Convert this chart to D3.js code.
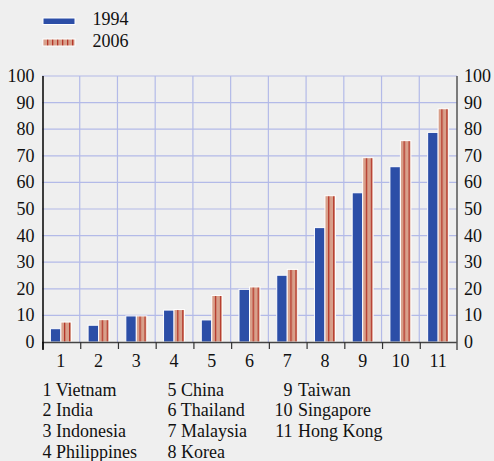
<!DOCTYPE html>
<html>
<head>
<meta charset="utf-8">
<script src="https://cdn.jsdelivr.net/npm/d3@7/dist/d3.min.js"></script>
<style>
  html, body { margin: 0; padding: 0; background: #efefef; }
  svg { display: block; }
</style>
</head>
<body>
<svg id="chart" width="494" height="461" font-family="'Liberation Serif', 'Times New Roman', Tinos, 'DejaVu Serif', serif"></svg>
<script>
const categories = ["1","2","3","4","5","6","7","8","9","10","11"];
const countries = ["Vietnam","India","Indonesia","Philippines","China","Thailand","Malaysia","Korea","Taiwan","Singapore","Hong Kong"];
const seriesNames = ["1994","2006"];
const values1994 = [5, 6.3, 9.8, 12, 8.3, 19.8, 25.1, 43, 56.1, 65.9, 78.8];
const values2006 = [7.5, 8.4, 9.8, 12.2, 17.5, 20.7, 27.3, 55, 69.3, 75.7, 87.7];
const yTicks = [0,10,20,30,40,50,60,70,80,90,100];

(function(){
const svg = d3.select("#chart");
const FONT = "Liberation Serif";
const FS = 18;
const pLeft = 42, pRight = 457, pTop = 76, pBottom = 342;
const blue = "#2c4ea7", pinkFill = "#d8a08b", pinkStripe = "#b5372a", grid = "#b3bae8";

const defs = svg.append("defs");
const pat = defs.append("pattern").attr("id","stripes").attr("patternUnits","userSpaceOnUse")
  .attr("width",5).attr("height",10);
pat.append("rect").attr("width",5).attr("height",10).attr("fill",pinkFill);
pat.append("rect").attr("x",2).attr("width",1.3).attr("height",10).attr("fill",pinkStripe);

const x0 = d3.scaleBand().domain(categories).range([pLeft, pRight]).padding(0);
const step = x0.bandwidth();
const x1 = d3.scaleBand().domain(seriesNames).range([step/2 - 10.5, step/2 + 10.5]).padding(0);
const y = d3.scaleLinear().domain([0,100]).range([pBottom, pTop]);

// gridlines
const g = svg.append("g");
g.selectAll(".hg").data(yTicks.slice(1)).join("line")
  .attr("x1", pLeft).attr("x2", pRight).attr("y1", d=>y(d)).attr("y2", d=>y(d))
  .attr("stroke", grid).attr("stroke-width", 1.2);
g.selectAll(".vg").data(categories.slice(1)).join("line")
  .attr("x1", d=>x0(d)).attr("x2", d=>x0(d)).attr("y1", pTop).attr("y2", pBottom)
  .attr("stroke", grid).attr("stroke-width", 1.2);

// bars
const data = categories.map((c,i)=>({c, v:[values1994[i], values2006[i]]}));
const groups = svg.append("g").selectAll("g").data(data).join("g")
  .attr("transform", d=>`translate(${x0(d.c)},0)`);
groups.selectAll("rect").data(d=>seriesNames.map((s,j)=>({s, v:d.v[j]}))).join("rect")
  .attr("x", d=>x1(d.s)).attr("width", x1.bandwidth())
  .attr("y", d=>y(d.v)).attr("height", d=>pBottom - y(d.v))
  .attr("fill", d=> d.s === "1994" ? blue : "url(#stripes)")
  .attr("stroke", "#ffffff").attr("stroke-width", 1);

// x axis baseline + bracket ticks
svg.append("line").attr("x1", pLeft).attr("x2", pRight).attr("y1", pBottom+0.5).attr("y2", pBottom+0.5)
  .attr("stroke", "#444").attr("stroke-width", 1.3);
svg.selectAll(".xt").data(categories).join("line")
  .attr("x1", d=>x0(d)+1).attr("x2", d=>x0(d)+1).attr("y1", pBottom).attr("y2", pBottom+7)
  .attr("stroke", "#333").attr("stroke-width", 1.2);

const txt = (sel) => sel.attr("font-family", FONT).attr("font-size", FS).attr("fill", "#111");

svg.selectAll(".xl").data(categories).join("text")
  .attr("x", d=>x0(d)+step/2).attr("y", 367).attr("text-anchor","middle")
  .call(txt).text(d=>d);

// left axis
svg.append("line").attr("x1", pLeft+1).attr("x2", pLeft+1).attr("y1", pTop).attr("y2", pBottom+8)
  .attr("stroke", "#000").attr("stroke-width", 1.5);
svg.selectAll(".yl").data(yTicks).join("text")
  .attr("x", 34.5).attr("y", d=>y(d)+6).attr("text-anchor","end")
  .call(txt).text(d=>d);
// right axis
svg.append("line").attr("x1", pRight).attr("x2", pRight).attr("y1", pTop).attr("y2", pBottom+8)
  .attr("stroke", "#555").attr("stroke-width", 1.5);
svg.selectAll(".yr").data(yTicks).join("text")
  .attr("x", 464).attr("y", d=>y(d)+6).attr("text-anchor","start")
  .call(txt).text(d=>d);

// series legend
const leg = svg.append("g");
leg.append("rect").attr("x",43).attr("y",18).attr("width",32).attr("height",6.5)
  .attr("fill", blue).attr("stroke","#fff").attr("stroke-width",1);
leg.append("rect").attr("x",43).attr("y",39).attr("width",32).attr("height",7)
  .attr("fill", "url(#stripes)").attr("stroke","#fff").attr("stroke-width",1);
leg.selectAll("text").data(seriesNames).join("text")
  .attr("x", 92.5).attr("y", (d,i)=> i===0 ? 24.5 : 46.5)
  .call(txt).text(d=>d);

// country key
const colX = [42.5, 167.5, 292.5];
const rowY = [395.5, 416.3, 437, 457.8];
countries.forEach((name,i)=>{
  const col = Math.floor(i/4), row = i%4;
  if (col < 2) {
    svg.append("text").attr("x", colX[col]).attr("y", rowY[row])
      .call(txt).text(categories[i] + " " + name);
  } else {
    svg.append("text").attr("x", colX[col]).attr("y", rowY[row])
      .attr("text-anchor","end").call(txt).text(categories[i]);
    svg.append("text").attr("x", colX[col]+5.5).attr("y", rowY[row])
      .call(txt).text(name);
  }
});
})();
</script>
</body>
</html>
